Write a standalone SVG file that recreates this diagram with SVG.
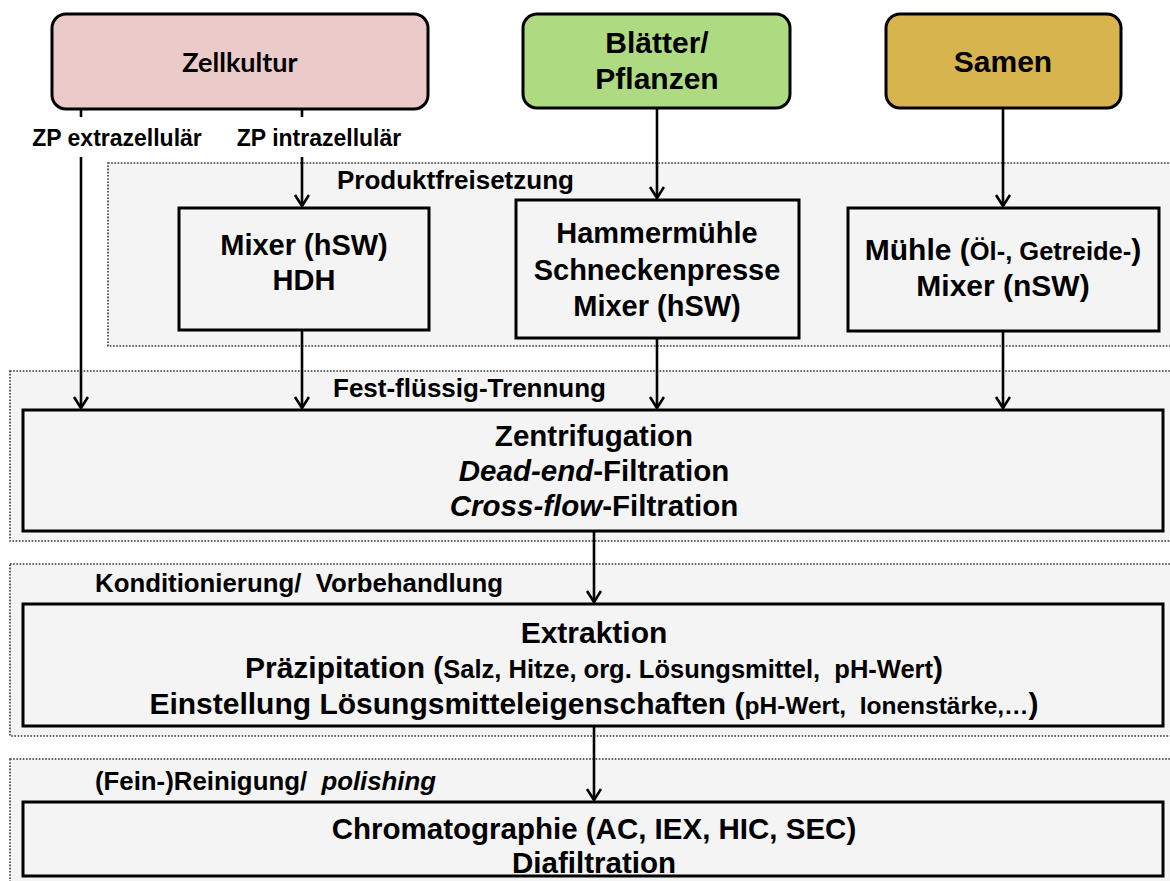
<svg xmlns="http://www.w3.org/2000/svg" width="1170" height="881" viewBox="0 0 1170 881">
<defs>
<style>
.region{fill:#F4F4F4;stroke:#333;stroke-width:1.6;stroke-dasharray:1.6 1.6}
.box{fill:#F4F4F4;stroke:#000;stroke-width:3}
.src{stroke:#000;stroke-width:3}
.t{font-family:"Liberation Sans",Arial,sans-serif;font-weight:bold;fill:#000;text-anchor:middle}
.l{font-family:"Liberation Sans",Arial,sans-serif;font-weight:bold;fill:#000}
.conn line{stroke:#000;stroke-width:2.6;fill:none}
.arr{marker-end:url(#ah)}
.i{font-style:italic}
</style>
<marker id="ah" markerUnits="userSpaceOnUse" markerWidth="18" markerHeight="18" refX="12" refY="8" orient="auto">
<path d="M1,1 L12,8 L1,15" fill="none" stroke="#000" stroke-width="2.6"/>
</marker>
</defs>
<rect width="1170" height="881" fill="#fff"/>

<g id="regions">
<rect class="region" x="108" y="163" width="1075" height="183"/>
<rect class="region" x="10" y="371" width="1173" height="170"/>
<rect class="region" x="10" y="564" width="1173" height="172"/>
<rect class="region" x="10" y="759" width="1173" height="135"/>
<text class="l" x="337" y="189" font-size="26">Produktfreisetzung</text>
<text class="l" x="333" y="397" font-size="26">Fest-flüssig-Trennung</text>
<text class="l" x="95" y="592" font-size="25.8" xml:space="preserve">Konditionierung/  Vorbehandlung</text>
<text class="l" x="95" y="790" font-size="25.8" xml:space="preserve">(Fein-)Reinigung/  <tspan class="i">polishing</tspan></text>
</g>

<g class="conn" id="connectors">
<line x1="81" y1="109" x2="81" y2="117"/>
<line x1="302" y1="109" x2="302" y2="117"/>
<line class="arr" x1="81" y1="157" x2="81" y2="408"/>
<line class="arr" x1="302" y1="157" x2="302" y2="206"/>
<line class="arr" x1="302" y1="330" x2="302" y2="408"/>
<line class="arr" x1="657" y1="108" x2="657" y2="198"/>
<line class="arr" x1="657" y1="338" x2="657" y2="408"/>
<line class="arr" x1="1003" y1="108" x2="1003" y2="206"/>
<line class="arr" x1="1003" y1="331" x2="1003" y2="408"/>
<line class="arr" x1="594" y1="531" x2="594" y2="602"/>
<line class="arr" x1="594" y1="726" x2="594" y2="800"/>
<text class="t" x="117" y="146" font-size="23">ZP extrazellulär</text>
<text class="t" x="319" y="146" font-size="23">ZP intrazellulär</text>
</g>

<g id="zellkultur">
<rect class="src" x="52" y="14" width="376" height="95" rx="14" fill="#EBCBCA"/>
<text class="t" x="240" y="72" font-size="27" style="font-family:Lato,'Liberation Sans',sans-serif">Zellkultur</text>
</g>
<g id="blaetter">
<rect class="src" x="523" y="14" width="267" height="94" rx="14" fill="#AEDB82"/>
<text class="t" x="657" y="53" font-size="30">Blätter/</text>
<text class="t" x="657" y="89" font-size="30">Pflanzen</text>
</g>
<g id="samen">
<rect class="src" x="886" y="14" width="235" height="94" rx="14" fill="#D7B44D"/>
<text class="t" x="1003" y="72" font-size="30">Samen</text>
</g>

<g id="mixer">
<rect class="box" x="179" y="208" width="250" height="122"/>
<text class="t" x="304" y="255" font-size="29">Mixer (hSW)</text>
<text class="t" x="304" y="290" font-size="29">HDH</text>
</g>
<g id="hammermuehle">
<rect class="box" x="516" y="200" width="283" height="138"/>
<text class="t" x="657" y="243" font-size="29">Hammermühle</text>
<text class="t" x="657" y="280" font-size="29">Schneckenpresse</text>
<text class="t" x="657" y="316" font-size="29">Mixer (hSW)</text>
</g>
<g id="muehle">
<rect class="box" x="848" y="208" width="311" height="123"/>
<text class="t" x="1003" y="260" font-size="30">Mühle (<tspan font-size="25.5">Öl-, Getreide-</tspan>)</text>
<text class="t" x="1003" y="296" font-size="30">Mixer (nSW)</text>
</g>

<g id="zentrifugation">
<rect class="box" x="23" y="410" width="1140" height="121"/>
<text class="t" x="594" y="446" font-size="29.5">Zentrifugation</text>
<text class="t" x="594" y="481" font-size="29.5"><tspan class="i">Dead-end</tspan>-Filtration</text>
<text class="t" x="594" y="516" font-size="29.5"><tspan class="i">Cross-flow</tspan>-Filtration</text>
</g>

<g id="extraktion">
<rect class="box" x="23" y="604" width="1140" height="122"/>
<text class="t" x="594" y="643" font-size="30">Extraktion</text>
<text class="t" x="594" y="678" font-size="30" xml:space="preserve">Präzipitation (<tspan font-size="25.5">Salz, Hitze, org. Lösungsmittel,  pH-Wert</tspan>)</text>
<text class="t" x="594" y="714" font-size="30" xml:space="preserve">Einstellung Lösungsmitteleigenschaften (<tspan font-size="24.5">pH-Wert,  Ionenstärke,…</tspan>)</text>
</g>

<g id="chromatographie">
<rect class="box" x="23" y="802" width="1140" height="74"/>
<text class="t" x="594" y="839" font-size="29.5">Chromatographie (AC, IEX, HIC, SEC)</text>
<text class="t" x="594" y="873" font-size="29.5">Diafiltration</text>
</g>
</svg>
